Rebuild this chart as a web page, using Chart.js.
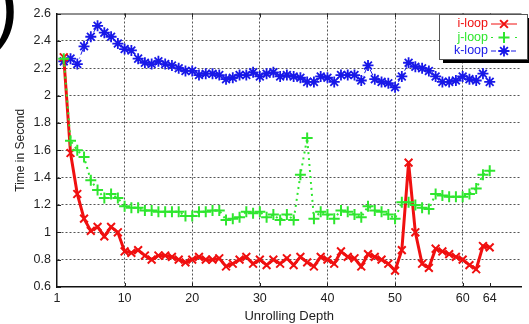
<!DOCTYPE html>
<html>
<head>
<meta charset="utf-8">
<script src="https://cdn.jsdelivr.net/npm/chart.js@4.4.1/dist/chart.umd.min.js"></script>
<style>
  html, body { margin: 0; padding: 0; background: #fff; }
  #wrap { position: relative; width: 529px; height: 324px; }
</style>
</head>
<body>
<div id="wrap"><canvas id="c" width="529" height="324"></canvas></div>
<script>
// unrolling depth (x)
const DEPTH = [
  1, 2, 3, 4, 5, 6, 7, 8, 9, 10, 11, 12, 13, 14, 15, 16,
  17, 18, 19, 20, 21, 22, 23, 24, 25, 26, 27, 28, 29, 30, 31, 32,
  33, 34, 35, 36, 37, 38, 39, 40, 41, 42, 43, 44, 45, 46, 47, 48,
  49, 50, 51, 52, 53, 54, 55, 56, 57, 58, 59, 60, 61, 62, 63, 64,
];
// time in second
const I_LOOP = [
  2.28, 1.58, 1.28, 1.10, 1.01, 1.04, 0.97, 1.04, 1.00, 0.86, 0.85, 0.87, 0.83, 0.80, 0.83, 0.83,
  0.82, 0.80, 0.78, 0.80, 0.82, 0.80, 0.80, 0.81, 0.75, 0.77, 0.80, 0.82, 0.77, 0.80, 0.76, 0.80,
  0.77, 0.81, 0.76, 0.82, 0.78, 0.75, 0.82, 0.80, 0.77, 0.86, 0.82, 0.81, 0.75, 0.84, 0.82, 0.80,
  0.77, 0.72, 0.87, 1.51, 1.00, 0.77, 0.74, 0.88, 0.86, 0.84, 0.82, 0.80, 0.76, 0.73, 0.90, 0.89,
];
const J_LOOP = [
  2.27, 1.67, 1.60, 1.55, 1.38, 1.31, 1.25, 1.28, 1.25, 1.19, 1.18, 1.18, 1.16, 1.16, 1.15, 1.15,
  1.15, 1.15, 1.12, 1.12, 1.15, 1.15, 1.16, 1.16, 1.09, 1.10, 1.11, 1.15, 1.14, 1.15, 1.11, 1.13,
  1.09, 1.13, 1.09, 1.42, 1.69, 1.10, 1.15, 1.13, 1.10, 1.16, 1.15, 1.13, 1.11, 1.19, 1.16, 1.15,
  1.13, 1.10, 1.22, 1.22, 1.20, 1.18, 1.17, 1.28, 1.27, 1.26, 1.26, 1.26, 1.28, 1.32, 1.42, 1.45,
];
const K_LOOP = [
  2.25, 2.27, 2.23, 2.36, 2.43, 2.51, 2.46, 2.43, 2.38, 2.34, 2.33, 2.27, 2.24, 2.23, 2.25, 2.23,
  2.22, 2.20, 2.18, 2.18, 2.15, 2.16, 2.16, 2.15, 2.12, 2.13, 2.15, 2.15, 2.17, 2.14, 2.16, 2.17,
  2.14, 2.15, 2.14, 2.13, 2.10, 2.10, 2.14, 2.13, 2.10, 2.15, 2.15, 2.15, 2.11, 2.22, 2.12, 2.10,
  2.09, 2.06, 2.14, 2.24, 2.21, 2.20, 2.18, 2.14, 2.10, 2.10, 2.11, 2.14, 2.12, 2.11, 2.16, 2.10,
];
const X_TICKS = [0, 10, 20, 30, 40, 50, 60, 64];
const X_TICK_TEXT = { 0: '1' };   // first tick sits at the axis origin but reads "1"

const FONT = "'Liberation Sans', Arial, sans-serif";
const INK = '#222';

const pts = arr => arr.map((v, i) => ({ x: DEPTH[i], y: v }));

// frame: top border, inward tick marks, the stray ")" of the caption
const framePlugin = {
  id: 'frame',
  afterDraw(chart) {
    const { ctx, chartArea: a, scales } = chart;
    ctx.save();
    ctx.strokeStyle = INK; ctx.lineWidth = 1;
    ctx.beginPath();
    ctx.moveTo(a.left, a.top + 0.5); ctx.lineTo(a.right, a.top + 0.5);
    X_TICKS.forEach(t => {
      if (t === 0) return;
      const px = Math.round(scales.x.getPixelForValue(t)) + 0.5;
      ctx.moveTo(px, a.bottom); ctx.lineTo(px, a.bottom - 4);
      ctx.moveTo(px, a.top); ctx.lineTo(px, a.top + 4);
    });
    scales.y.ticks.forEach(t => {
      const py = Math.round(scales.y.getPixelForValue(t.value)) + 0.5;
      ctx.moveTo(a.left, py); ctx.lineTo(a.left + 4, py);
    });
    ctx.stroke();
    ctx.fillStyle = '#000';
    ctx.font = '84px ' + FONT;
    ctx.textBaseline = 'alphabetic';
    ctx.fillText(')', -9, 34);
    ctx.restore();
  }
};

// boxed legend: label text first, then line sample with marker
const legendPlugin = {
  id: 'boxLegend',
  afterDraw(chart) {
    const ctx = chart.ctx;
    const bx = 439, by = 14, bw = 88, bh = 45;
    ctx.save();
    ctx.fillStyle = '#000';
    ctx.fillRect(bx + 4, by + 4, bw, bh);
    ctx.fillStyle = '#fff';
    ctx.fillRect(bx, by, bw, bh);
    ctx.strokeStyle = '#555'; ctx.lineWidth = 1;
    ctx.strokeRect(bx + 0.5, by + 0.5, bw, bh);
    ctx.font = '12.5px ' + FONT;
    ctx.textAlign = 'right'; ctx.textBaseline = 'middle';
    chart.data.datasets.forEach((ds, i) => {
      const y = by + 10 + i * 13.5;
      ctx.fillStyle = ds.borderColor;
      ctx.fillText(ds.label, 488, y);
      ctx.strokeStyle = ds.borderColor;
      ctx.lineWidth = 1;
      ctx.setLineDash(ds.legendDash || []);
      ctx.beginPath(); ctx.moveTo(491, y); ctx.lineTo(517, y); ctx.stroke();
      ctx.setLineDash([]);
      ctx.lineWidth = ds.pointBorderWidth;
      Chart.helpers.drawPoint(ctx, {
        pointStyle: ds.pointStyle, radius: ds.pointRadius, borderWidth: ds.pointBorderWidth, rotation: 0
      }, 504, y);
    });
    ctx.restore();
  }
};

new Chart(document.getElementById('c'), {
  type: 'line',
  data: {
    datasets: [
      {
        label: 'i-loop', data: pts(I_LOOP), order: 1,
        borderColor: '#f01010', backgroundColor: '#f01010', borderWidth: 3,
        pointStyle: 'crossRot', pointRadius: 5.5, pointBorderWidth: 2, legendDash: [],
      },
      {
        label: 'j-loop', data: pts(J_LOOP), order: 0,
        borderColor: '#2ee62e', backgroundColor: '#2ee62e', borderWidth: 2, borderDash: [2, 4],
        pointStyle: 'cross', pointRadius: 5.5, pointBorderWidth: 2, legendDash: [2, 6],
      },
      {
        label: 'k-loop', data: pts(K_LOOP), order: 2,
        borderColor: '#1818e8', backgroundColor: '#1818e8', borderWidth: 1, borderDash: [6, 3, 1, 3],
        pointStyle: 'star', pointRadius: 5.5, pointBorderWidth: 1.8, legendDash: [5, 2, 1, 2],
      },
    ]
  },
  options: {
    responsive: false, animation: false, maintainAspectRatio: false,
    layout: { padding: { top: 11, right: 0, left: 0, bottom: 0 } },
    elements: { line: { tension: 0 } },
    plugins: { legend: { display: false }, tooltip: { enabled: false } },
    scales: {
      x: {
        type: 'linear', min: 0, max: 68.7,
        afterBuildTicks: s => { s.ticks = X_TICKS.map(v => ({ value: v })); },
        afterFit: s => { s.height = 37; },
        ticks: {
          autoSkip: false, maxRotation: 0, padding: 4, color: INK,
          font: { family: FONT, size: 12.5 },
          callback: v => X_TICK_TEXT[v] || String(v),
        },
        grid: {
          drawTicks: false,
          color: c => (c.tick && (c.tick.value === 0 || c.tick.value === 64)) ? 'rgba(0,0,0,0)' : '#555',
        },
        border: { display: true, color: '#111', width: 1.5, dash: [2, 2] },
        title: {
          display: true, text: 'Unrolling Depth', color: INK,
          font: { family: FONT, size: 13 }, padding: { top: 0, bottom: 0 },
        },
      },
      y: {
        min: 0.6, max: 2.6,
        afterFit: s => { s.width = 57; },
        ticks: {
          stepSize: 0.2, padding: 6, color: INK,
          font: { family: FONT, size: 12.5 },
          callback: v => String(Number(v.toFixed(1))),
        },
        grid: {
          drawTicks: false,
          color: c => (c.tick && (c.tick.value <= 0.6 || c.tick.value >= 2.6)) ? 'rgba(0,0,0,0)' : '#555',
        },
        border: { display: true, color: '#111', width: 1.5, dash: [2, 2] },
        title: {
          display: true, text: 'Time in Second', color: INK,
          font: { family: FONT, size: 12 }, padding: { top: 13, bottom: 0 },
        },
      },
    }
  },
  plugins: [framePlugin, legendPlugin]
});
</script>
</body>
</html>
